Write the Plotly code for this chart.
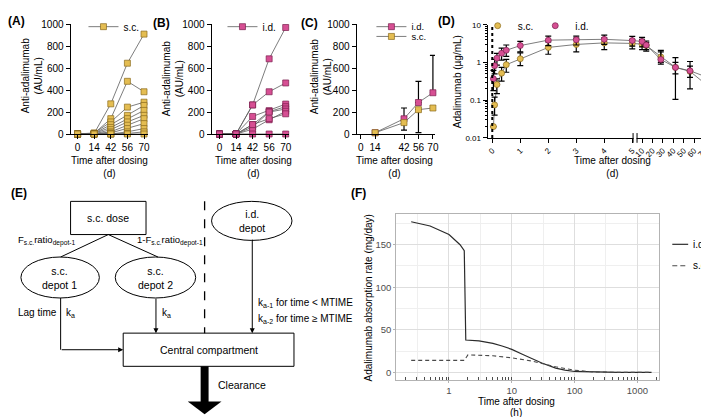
import plotly.graph_objects as go

W, H = 709, 417
FONT = "Liberation Sans, Arial, Helvetica, sans-serif"

SC_FILL, SC_EDGE = "#E4BD52", "#8A6A1C"
ID_FILL, ID_EDGE = "#D64F93", "#7A1E4E"
LINK = "#5c5c5c"

# ---------------- values ----------------
VISITS = ["0", "14", "42", "56", "70"]   # sampling day, panels A and B

# (A) anti-adalimumab, one row per s.c. subject (AU/mL)
SC_ADA = [
    [0, 5, 275, 645, 910],
    [0, 5, 140, 480, 385],
    [0, 10, 110, 245, 290],
    [0, 5, 85, 170, 260],
    [0, 5, 60, 140, 215],
    [0, 0, 40, 110, 170],
    [0, 0, 20, 80, 140],
    [0, 0, 10, 50, 95],
    [0, 0, 0, 20, 50],
    [0, 0, 0, 5, 20],
    [0, 0, 0, 0, 0],
]

# (B) anti-adalimumab, one row per i.d. subject (AU/mL)
ID_ADA = [
    [0, 0, 265, 685, 970],
    [0, 0, 265, 385, 465],
    [0, 0, 160, 213, 273],
    [0, 0, 86, 204, 249],
    [0, 0, 65, 200, 228],
    [0, 0, 44, 130, 207],
    [0, 0, 86, 140, 184],
    [0, 0, 0, 0, 0],
]

# (C) group means
C_DAYS = [14, 42, 56, 70]
C_TICKS = [0, 14, 42, 56, 70]
C_ID_MEAN = [12, 139, 287, 376]
C_ID_SD = [0, 98, 193, 341]
C_SC_MEAN = [12, 104, 222, 237]
C_SC_SD = [0, 68, 210, 0]

# (D) adalimumab concentration, µg/mL
D_HOURS = [1, 2, 4, 8, 12, 24, 48, 72, 96, 120, 240, 336, 672, 1008, 1344, 1680]
D_SC_MEAN = [0.02, 0.075, 0.26, 0.52, 0.87, 1.25, 2.5, 3.0, 3.3, 3.2, 3.05, 2.8, 1.4, 0.74, 0.58, 0.28]
D_SC_HI = [0.02, 0.12, 0.37, 0.74, 1.2, 1.8, 3.5, 4.4, 4.5, 4.1, 4.1, 3.4, 1.9, 1.0, 0.8, 0.35]
D_SC_LO = [0.02, 0.04, 0.15, 0.32, 0.55, 0.82, 1.65, 1.9, 2.2, 2.3, 2.2, 2.2, 1.0, 0.5, 0.4, 0.22]
D_ID_MEAN = [0.37, 0.82, 1.3, 1.75, 2.1, 2.8, 3.9, 4.0, 4.1, 3.8, 3.6, 2.9, 1.2, 0.74, 0.6, 0.43]
D_ID_HI = [0.62, 1.2, 1.75, 2.4, 2.9, 3.6, 5.0, 5.0, 5.3, 4.9, 4.6, 3.7, 2.1, 1.35, 1.06, 0.7]
D_ID_LO = [0.18, 0.5, 0.85, 1.15, 1.45, 1.9, 2.8, 2.9, 3.0, 2.7, 2.6, 2.0, 0.9, 0.105, 0.2, 0.41]
D_TICKS = [0, 1, 2, 3, 4, 5, 10, 20, 30, 40, 50, 60, 70]

# (F) simulated absorption rate, mg/day
F_ID_H = [0.25, 0.5, 1, 1.5, 1.75, 1.85, 3, 5, 7, 10, 15, 20, 30, 50, 70, 100, 200, 500, 1680]
F_ID_RATE = [177, 172, 162, 150, 143, 38, 37, 34, 31, 27, 21, 17, 11, 5, 2.5, 1, 0.2, 0, 0]
F_SC_H = [0.25, 1.75, 2, 3, 5, 10, 20, 30, 50, 100, 200, 500, 1680]
F_SC_RATE = [14, 14, 20.5, 20, 19.5, 17, 13.5, 10.5, 6.5, 2.5, 0.5, 0, 0]


def px(x):
    return x / W


def py(y):
    return 1 - y / H


def brk(day):
    """broken x scale of panel D: 0-5 d stretched, 10-70 d compressed"""
    if day <= 5.5:
        return 28.2 * day
    return 147.3 + (day - 6.6) * 1.05


fig = go.Figure()

# ---- (A) / (B) individual profiles
for i, vals in enumerate(SC_ADA):
    fig.add_trace(go.Scatter(x=VISITS, y=vals, xaxis="x", yaxis="y", mode="lines+markers",
                             name="s.c.", legend="legend", showlegend=(i == 0), cliponaxis=False,
                             line=dict(color=LINK, width=0.8),
                             marker=dict(symbol="square", size=6, color=SC_FILL,
                                         line=dict(color=SC_EDGE, width=0.7))))
for i, vals in enumerate(ID_ADA):
    fig.add_trace(go.Scatter(x=VISITS, y=vals, xaxis="x2", yaxis="y2", mode="lines+markers",
                             name="i.d.", legend="legend2", showlegend=(i == 0), cliponaxis=False,
                             line=dict(color=LINK, width=0.8),
                             marker=dict(symbol="square", size=6, color=ID_FILL,
                                         line=dict(color=ID_EDGE, width=0.7))))

# ---- (C) means
fig.add_trace(go.Scatter(x=C_DAYS, y=C_ID_MEAN, xaxis="x3", yaxis="y3", mode="lines+markers",
                         name="i.d.", legend="legend3", cliponaxis=False,
                         error_y=dict(type="data", symmetric=False, array=C_ID_SD,
                                      arrayminus=[0] * len(C_ID_SD), color="black", thickness=1.2, width=3),
                         line=dict(color=LINK, width=0.8),
                         marker=dict(symbol="square", size=6, color=ID_FILL, line=dict(color=ID_EDGE, width=0.7))))
fig.add_trace(go.Scatter(x=C_DAYS, y=C_SC_MEAN, xaxis="x3", yaxis="y3", mode="lines+markers",
                         name="s.c.", legend="legend4", cliponaxis=False,
                         error_y=dict(type="data", symmetric=False, array=[0] * len(C_SC_SD),
                                      arrayminus=C_SC_SD, color="black", thickness=1.2, width=3),
                         line=dict(color=LINK, width=0.8),
                         marker=dict(symbol="square", size=6, color=SC_FILL, line=dict(color=SC_EDGE, width=0.7))))

# ---- (D) concentrations
d_x = [brk(h / 24) for h in D_HOURS]
for mean, hi, lo, fill, edge, name, leg in [
        (D_SC_MEAN, D_SC_HI, D_SC_LO, SC_FILL, SC_EDGE, "s.c.", "legend5"),
        (D_ID_MEAN, D_ID_HI, D_ID_LO, ID_FILL, ID_EDGE, "i.d.", "legend6")]:
    fig.add_trace(go.Scatter(x=d_x, y=mean, xaxis="x4", yaxis="y4", mode="lines",
                             showlegend=False, line=dict(color=LINK, width=0.8)))
    fig.add_trace(go.Scatter(x=d_x, y=mean, xaxis="x4", yaxis="y4", mode="markers",
                             name=name, legend=leg, cliponaxis=False,
                             error_y=dict(type="data", symmetric=False,
                                          array=[h - m for h, m in zip(hi, mean)],
                                          arrayminus=[m - l for m, l in zip(mean, lo)],
                                          color="black", thickness=1.2, width=3),
                             marker=dict(symbol="circle", size=6, color=fill, line=dict(color=edge, width=0.7))))

# ---- (F) absorption rate
ID_LINE = dict(color="#2b2b2b", width=1.2)
SC_LINE = dict(color="#4a4a4a", width=1.1, dash="4px,3px")
fig.add_trace(go.Scatter(x=F_ID_H, y=F_ID_RATE, xaxis="x5", yaxis="y5", mode="lines", name="i.d.",
                         showlegend=False, line=ID_LINE))
fig.add_trace(go.Scatter(x=F_SC_H, y=F_SC_RATE, xaxis="x5", yaxis="y5", mode="lines", name="s.c.",
                         showlegend=False, line=SC_LINE))
fig.add_trace(go.Scatter(x=[], y=[], xaxis="x6", yaxis="y5", showlegend=False))

base = dict(showline=True, linecolor="black", linewidth=1, ticks="outside", ticklen=4,
            tickwidth=1, tickcolor="black", showgrid=False, zeroline=False,
            tickfont=dict(family=FONT, size=10, color="black"))
ada_y = dict(base, range=[0, 1000], tickvals=[0, 200, 400, 600, 800, 1000],
             domain=[py(124), py(11.5)])

ggx = dict(showline=True, mirror=True, linecolor="#b3b3b3", linewidth=1, ticks="outside",
           ticklen=2, tickcolor="#b3b3b3", showgrid=True, gridcolor="#dedede", gridwidth=0.7,
           zeroline=False, tickfont=dict(family=FONT, size=9.5, color="#4d4d4d"))

log_minor = [m * 10 ** e for e in (-2, -1, 0) for m in range(2, 10)]
f_logticks = [m * 10 ** e for e in range(-1, 4) for m in range(1, 10)]

fig.update_layout(
    width=W, height=H, margin=dict(l=0, r=0, t=0, b=0),
    paper_bgcolor="white", plot_bgcolor="white",
    font=dict(family=FONT, size=10, color="black"),
    xaxis=dict(base, type="category", domain=[px(62), px(140)], range=[-0.42, 4.24], anchor="y"),
    yaxis=dict(ada_y, anchor="x"),
    xaxis2=dict(base, type="category", domain=[px(204), px(282)], range=[-0.48, 4.2], anchor="y2"),
    yaxis2=dict(ada_y, anchor="x2"),
    xaxis3=dict(base, domain=[px(350), px(429)], range=[-4, 72], tickvals=C_TICKS, anchor="y3"),
    yaxis3=dict(ada_y, anchor="x3"),
    xaxis4=dict(base, domain=[px(482), px(703)], range=[-4.7, 216.3],
                tickvals=[brk(d) for d in D_TICKS], ticktext=[str(d) for d in D_TICKS],
                tickangle=-45, tickfont=dict(family=FONT, size=8, color="black"), anchor="y4"),
    yaxis4=dict(base, type="log", domain=[py(128), py(12)], range=[-2, 1],
                tickvals=[0.01, 0.1, 1, 10], ticktext=["0.01", "0.1", "1", "10"],
                tickfont=dict(family=FONT, size=8, color="black"),
                minor=dict(tickvals=log_minor, ticks="outside", ticklen=2, tickcolor="black"),
                anchor="x4"),
    xaxis5=dict(ggx, type="log", domain=[px(390), px(655)], range=[-0.84, 3.35],
                tickvals=[1, 10, 100, 1000], ticktext=["1", "10", "100", "1000"],
                minor=dict(tickvals=[10 ** (k + 0.5) for k in range(-1, 3)], showgrid=True,
                           gridcolor="#efefef", gridwidth=0.5),
                anchor="y5"),
    yaxis5=dict(ggx, domain=[py(376), py(206)], range=[-9, 186], tickvals=[0, 50, 100, 150],
                minor=dict(tickvals=[25, 75, 125, 175], showgrid=True, gridcolor="#efefef",
                           gridwidth=0.5),
                anchor="x5"),
    xaxis6=dict(type="log", overlaying="x5", anchor="y5", range=[-0.84, 3.35],
                tickvals=f_logticks, ticks="inside", ticklen=2.5, tickcolor="#4d4d4d",
                showticklabels=False, showgrid=False, showline=False, zeroline=False),
)

leg = dict(bgcolor="rgba(0,0,0,0)", borderwidth=0, font=dict(family=FONT, size=10),
           itemwidth=30, xanchor="left", yanchor="middle", tracegroupgap=0)
fig.update_layout(
    legend=dict(leg, x=px(75), y=py(14)),
    legend2=dict(leg, x=px(215), y=py(14)),
    legend3=dict(leg, x=px(365), y=py(14), font=dict(family=FONT, size=9.5)),
    legend4=dict(leg, x=px(365), y=py(24), font=dict(family=FONT, size=9.5)),
    legend5=dict(leg, x=px(472), y=py(13)),
    legend6=dict(leg, x=px(530), y=py(13)),
)

# ---- texts
ann = []


def text(x, y, s, size=10, bold=False, angle=0, anchor="center"):
    ann.append(dict(x=px(x), y=py(y), xref="paper", yref="paper", text=f"<b>{s}</b>" if bold else s,
                    showarrow=False, textangle=angle, xanchor=anchor, yanchor="middle",
                    font=dict(family=FONT, size=size, color="black")))


def arrow(x, y, dx, dy):
    ann.append(dict(x=px(x), y=py(y), xref="paper", yref="paper", text="", showarrow=True,
                    ax=dx, ay=dy, arrowhead=2, arrowsize=1, arrowwidth=1, arrowcolor="black",
                    standoff=0, startstandoff=0))


for lab, x, y in [("(A)", 8, 8), ("(B)", 154, 10), ("(C)", 303, 10), ("(D)", 441, 8),
                  ("(E)", 10, 184), ("(F)", 352, 184)]:
    text(x, y, lab, size=12, bold=True)

for x in (101, 246, 388, 608):
    text(x, 158, "Time after dosing<br>(d)")
for x, y in ((24, 64), (166, 67), (315, 65)):
    text(x, y, "Anti-adalimumab<br>(AU/mL)", angle=-90)
text(452, 70, "Adalimumab (µg/mL)", angle=-90)
text(511, 398, "Time after dosing")
text(511, 409, "(h)")
text(363, 292, "Adalimumab absorption rate (mg/day)", angle=-90)

# legend of (F)
text(687, 237, "i.d.", anchor="left")
text(687, 259, "s.c.", anchor="left")

# diagram (E)
text(100, 210, "s.c. dose", size=10.5)
text(51, 271, "s.c.<br>depot 1", size=10.5)
text(148, 271, "s.c.<br>depot 2", size=10.5)
text(245, 213, "i.d.<br>depot", size=10.5)
text(201, 345, "Central compartment", size=10.5)
text(208, 381, "Clearance", size=10.5, anchor="left")
text(7, 307, "Lag time", size=10, anchor="left")
text(55, 307, "k<sub>a</sub>", size=10, anchor="left")
text(152, 307, "k<sub>a</sub>", size=10, anchor="left")
text(249, 297, "k<sub>a-1</sub> for time &lt; MTIME", size=10, anchor="left")
text(249, 314, "k<sub>a-2</sub> for time ≥ MTIME", size=10, anchor="left")
text(7, 233, "F<sub>s.c.</sub>ratio<sub>depot-1</sub>", size=9.5, anchor="left")
text(127, 233, "1-F<sub>s.c.</sub>ratio<sub>depot-1</sub>", size=9.5, anchor="left")

arrow(115, 345, -63, 0)
arrow(148, 328, 0, -36)
arrow(245, 328, 0, -95)
fig.update_layout(annotations=ann)

shp = []


def pline(x0, y0, x1, y1, dash="solid", width=1, color="black"):
    shp.append(dict(type="line", xref="paper", yref="paper", x0=px(x0), y0=py(y0), x1=px(x1),
                    y1=py(y1), line=dict(color=color, width=width, dash=dash)))


def pbox(kind, x0, y0, x1, y1, fill="rgba(0,0,0,0)", width=1):
    shp.append(dict(type=kind, xref="paper", yref="paper", x0=px(x0), y0=py(y1), x1=px(x1),
                    y1=py(y0), fillcolor=fill, line=dict(color="black", width=width)))


pbox("rect", 62, 193, 138, 227)
pbox("rect", 115, 328, 287, 362)
pbox("circle", 12, 250, 91, 292)
pbox("circle", 107, 250, 188, 292)
pbox("circle", 204, 193, 285, 233)
pline(100, 227, 52, 250)
pline(100, 227, 150, 250)
pline(52, 292, 52, 345)
pline(197, 193, 197, 328, dash="dash", width=1.3)
pbox("rect", 193, 362, 201, 399, fill="black", width=0)
shp.append(dict(type="path", xref="paper", yref="paper", fillcolor="black", line=dict(width=0),
                path=f"M {px(180)} {py(398)} L {px(214)} {py(398)} L {px(197)} {py(411)} Z"))

# legend keys of (F)
pline(668, 237, 684, 237, width=ID_LINE["width"], color=ID_LINE["color"])
pline(668, 259, 684, 259, width=SC_LINE["width"], color=SC_LINE["color"], dash="5px,3px")

# dotted dosing line and axis break of panel D
shp.append(dict(type="line", xref="x4", yref="y4 domain", x0=0, x1=0, y0=0, y1=1,
                line=dict(color="black", width=2, dash="dot")))
pbox("rect", 629, 126, 632, 130, fill="white", width=0)
pline(628.5, 123, 628.5, 133)
pline(632.5, 123, 632.5, 133)
fig.update_layout(shapes=shp)

fig.write_html("out.html")
